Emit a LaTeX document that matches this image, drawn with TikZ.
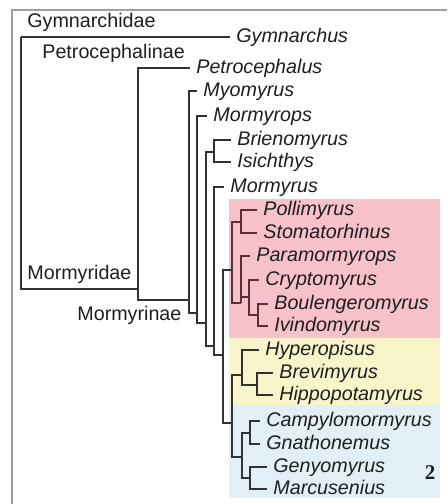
\documentclass[tikz,border=0pt]{standalone}
\usepackage{fontspec}
\setmainfont{Liberation Sans}
\newfontfamily\numfont{Liberation Serif}
\usepackage{xcolor}
\usepackage{tikz}

\definecolor{treegray}{RGB}{50,50,50}
\definecolor{treepink}{RGB}{92,45,58}
\definecolor{textdark}{RGB}{30,30,30}
\definecolor{framegray}{RGB}{160,160,160}
\definecolor{pinkbg}{RGB}{246,193,200}
\definecolor{yellowbg}{RGB}{248,245,202}
\definecolor{bluebg}{RGB}{226,239,247}

\begin{document}
\begin{tikzpicture}[x=0.5pt, y=-0.5pt, every node/.style={font=\fontsize{9.85}{12}\selectfont, text=textdark}, leaf/.style={anchor=west, inner xsep=3pt, inner ysep=0pt, text height=0.72em, text depth=0.2em, font=\fontsize{9.85}{12}\selectfont\itshape}, grp/.style={anchor=west, inner sep=0pt, text height=0.72em, text depth=0.2em}, branch/.style={draw=treegray, line width=0.95pt}, pinkbranch/.style={branch, draw=treepink}]
    \useasboundingbox (0,0) rectangle (447,504);
    % clade boxes
    \fill[pinkbg] (229,199) rectangle (440,338);
    \fill[yellowbg] (229,338) rectangle (440,405);
    \fill[bluebg] (229,405) rectangle (440,498);
    \draw[framegray, line width=0.7pt] (12,504) -- (12,10) -- (447,10);
    % taxa
    \foreach \nm/\x/\y/\lab in {gym/230/37/Gymnarchus, pet/190/68/Petrocephalus, myo/197/91/Myomyrus, mops/207/116/Mormyrops, bri/231/140/Brienomyrus, isi/231/162/Isichthys, mor/224/187/Mormyrus, pol/257/210/Pollimyrus, sto/257/233/Stomatorhinus, para/250/256/Paramormyrops, cry/259/280/Cryptomyrus, bou/268/304/Boulengeromyrus, ivi/268/326/Ivindomyrus, hyp/259/350/Hyperopisus, bre/273/373/Brevimyrus, hip/273/395/Hippopotamyrus, cam/260/421/Campylomormyrus, gna/260/444/Gnathonemus, gen/267/467/Genyomyrus, mar/267/489/Marcusenius}{
      \node[leaf] (\nm) at (\x,\y) {\lab};
    }
    % internal nodes
    \foreach \nm/\x/\y in {root/21/37, mdae/138/289, mnae/189/300, n1/197/313, n2/206/323, bi/214/152, n3/214/346, crown/223/355, pink/232/270, ps/241/222, pa/241/303, cb/249/297, bi2/258/315, yb/232/423, yel/242/375, bh/257/385, blu/242/457, cg/250/433, gm/250/478}{
      \coordinate (\nm) at (\x,\y);
    }
    \foreach \a/\b in {root/gym, root/mdae, mdae/pet, mdae/mnae, mnae/myo, mnae/n1, n1/mops, n1/n2, n2/bi, n2/n3, bi/bri, bi/isi, n3/mor, n3/crown, crown/pink, crown/yb, yb/yel, yb/blu, yel/hyp, yel/bh, bh/bre, bh/hip, blu/cg, blu/gm, cg/cam, cg/gna, gm/gen, gm/mar}{
      \draw[branch] (\a) |- (\b);
    }
    \foreach \a/\b in {pink/ps, pink/pa, ps/pol, ps/sto, pa/para, pa/cb, cb/cry, cb/bi2, bi2/bou, bi2/ivi}{
      \draw[pinkbranch] (\a) |- (\b);
    }
    % group labels
    \node[grp] (gymnarchidae) at (27,22) {Gymnarchidae};
    \node[grp] (petrocephalinae) at (42,53) {Petrocephalinae};
    \node[grp] (mormyridae) at (27,274) {Mormyridae};
    \node[grp] (mormyrinae) at (77,315) {Mormyrinae};
    \node (panel) at (430,473) {\fontsize{10.5}{12}\numfont\bfseries 2};
\end{tikzpicture}
\end{document}
